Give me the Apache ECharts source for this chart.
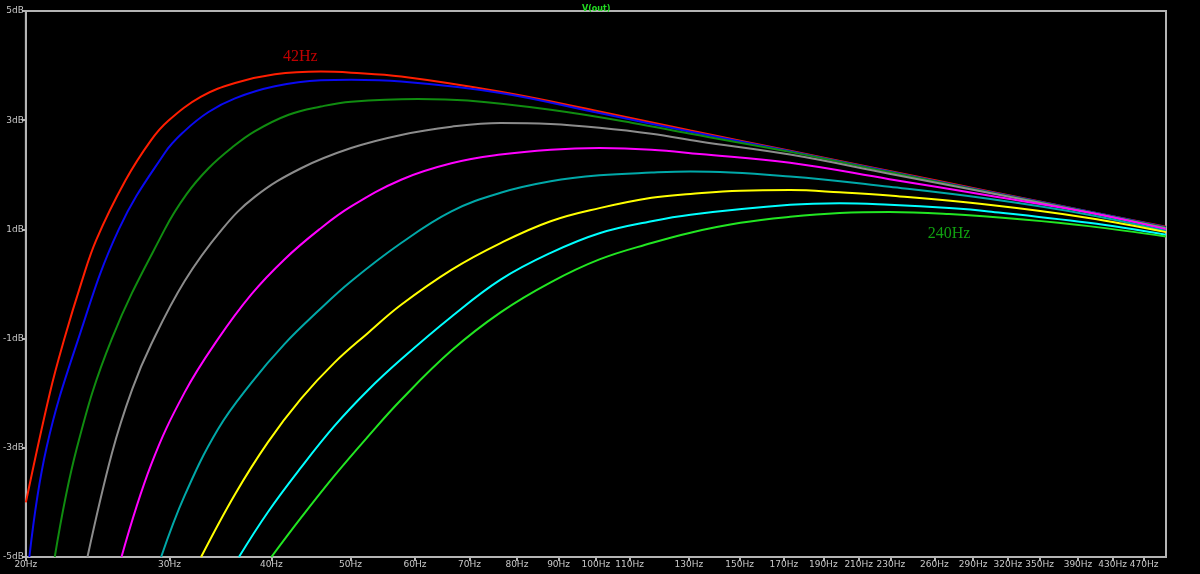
<!DOCTYPE html>
<html>
<head>
<meta charset="utf-8">
<title>V(out)</title>
<style>
  html, body { margin: 0; padding: 0; background: #000; }
  #myChart { width: 1200px; height: 574px; }
</style>
</head>
<body>
<div id="myChart"></div>
<script src="https://cdn.jsdelivr.net/npm/echarts@6/dist/echarts.min.js"></script>
<script>
// tick positions
var xTicks = [20, 30, 40, 50, 60, 70, 80, 90, 100, 110, 130, 150, 170, 190, 210, 230, 260, 290, 320, 350, 390, 430, 470];
var yTicks = [-5, -3, -1, 1, 3, 5];

// [Hz, dB], one array per trace
var trace42 = [[20, -4.0], [21.4, -2.0], [22.3, -1.0], [23.4, 0.03], [24.4, 0.81], [26.5, 1.9], [28.5, 2.64], [29.9, 2.99], [32.8, 3.43], [36.1, 3.68], [40.4, 3.84], [46, 3.89], [50.1, 3.87], [57.7, 3.80], [76.4, 3.52], [101, 3.16], [130.6, 2.81], [173, 2.44], [229, 2.07], [303, 1.70], [402, 1.33], [500, 1.05]];
var traceBlue = [[20.2, -5], [21.2, -3], [23.2, -1], [26, 1], [29.6, 2.4], [31.3, 2.8], [33.5, 3.15], [36.1, 3.4], [40.4, 3.62], [46, 3.73], [50.1, 3.74], [57.7, 3.71], [76.4, 3.50], [101, 3.13], [130.6, 2.79], [173, 2.43], [229, 2.06], [303, 1.69], [402, 1.33], [500, 1.04]];
var traceDkGreen = [[21.7, -5], [23.1, -3], [25.5, -1], [29.6, 1], [31.5, 1.65], [33.5, 2.12], [35.8, 2.5], [38.2, 2.8], [42, 3.1], [46, 3.25], [50.1, 3.34], [60.5, 3.39], [69.6, 3.36], [88, 3.19], [111, 2.95], [130.6, 2.75], [173, 2.42], [229, 2.05], [303, 1.68], [402, 1.32], [500, 1.03]];
var traceGray = [[23.8, -5], [25.5, -3.1], [27, -1.93], [28.5, -1.1], [31.3, 0.05], [34.8, 1.0], [38.2, 1.6], [43.5, 2.12], [50.1, 2.49], [57.7, 2.73], [66.5, 2.88], [76.4, 2.95], [88, 2.93], [101, 2.86], [117, 2.75], [134, 2.61], [173, 2.37], [229, 2.02], [303, 1.67], [402, 1.31], [500, 1.02]];
var traceMagenta = [[26.2, -5], [28.5, -3.3], [31.3, -1.99], [34.4, -1.01], [37.8, -0.19], [41.5, 0.45], [45.8, 1.0], [50.1, 1.42], [57.7, 1.91], [66.5, 2.21], [76.4, 2.37], [88, 2.46], [101, 2.49], [117, 2.46], [134, 2.38], [173, 2.22], [229, 1.92], [303, 1.62], [402, 1.31], [500, 1.0]];
var traceTeal = [[29.3, -5], [31.3, -3.88], [34.4, -2.66], [37.8, -1.81], [41.5, -1.1], [45.6, -0.5], [50.1, 0.05], [57.7, 0.75], [66.5, 1.33], [76.4, 1.67], [88, 1.88], [101, 1.99], [117, 2.04], [130.6, 2.06], [173, 1.97], [229, 1.78], [303, 1.56], [402, 1.27], [500, 0.97]];
var traceYellow = [[32.8, -5], [36.1, -3.85], [39.6, -2.9], [43.5, -2.1], [47.8, -1.44], [52.5, -0.9], [57.7, -0.38], [66.5, 0.26], [76.4, 0.75], [88, 1.15], [101, 1.39], [117, 1.58], [130.6, 1.65], [150.4, 1.71], [173, 1.72], [199, 1.68], [229, 1.62], [303, 1.45], [402, 1.21], [500, 0.95]];
var traceCyan = [[36.5, -5], [39.6, -4.18], [43.5, -3.36], [47.8, -2.6], [52.5, -1.95], [57.7, -1.38], [66.5, -0.6], [76.4, 0.08], [88, 0.57], [101, 0.93], [117, 1.15], [130.6, 1.27], [173, 1.45], [199, 1.48], [229, 1.45], [271, 1.39], [303, 1.33], [402, 1.12], [500, 0.90]];
var trace240 = [[40, -5], [43.5, -4.28], [47.8, -3.51], [52.5, -2.8], [57.7, -2.12], [66.5, -1.22], [76.4, -0.52], [88, 0.03], [101, 0.45], [117, 0.75], [130.6, 0.94], [150.4, 1.12], [173, 1.23], [199, 1.30], [229, 1.32], [271, 1.28], [334, 1.18], [402, 1.06], [500, 0.87]];

var traces = [
    {data: trace42, color: '#ff1e00'},
    {data: traceBlue, color: '#0a0af0'},
    {data: traceDkGreen, color: '#108c10'},
    {data: traceGray, color: '#8c8c8c'},
    {data: traceMagenta, color: '#ff00ff'},
    {data: traceTeal, color: '#00a8a8'},
    {data: traceYellow, color: '#ffff00'},
    {data: traceCyan, color: '#00ffff'},
    {data: trace240, color: '#22e622'}
];

var frame = '#b4b4b4';
var tickFont = {color: '#c8c8c8', fontSize: 9, fontFamily: 'DejaVu Sans'};

var series = traces.map(function (t) {
    return {
        type: 'line',
        data: t.data,
        showSymbol: false,
        smooth: 0.4,
        lineStyle: {color: t.color, width: 2},
        itemStyle: {color: t.color},
        z: 3
    };
});

// the two step labels, placed in data space
function stepLabel(coord, text, color) {
    return {
        symbol: 'circle',
        symbolSize: 1,
        itemStyle: {color: 'rgba(0,0,0,0)'},
        label: {show: true, position: 'inside', color: color, fontSize: 16, fontFamily: 'Liberation Serif', formatter: text},
        data: [{coord: coord}]
    };
}
series[0].markPoint = stepLabel([43.4, 4.16], '42Hz', '#c00000');
series[8].markPoint = stepLabel([271, 0.92], '240Hz', '#10a010');

var option = {
    backgroundColor: '#000',
    animation: false,
    title: {
        text: 'V(out)',
        left: 577,
        top: 0,
        textStyle: {color: '#22dd22', fontSize: 8, fontWeight: 'bold', fontFamily: 'DejaVu Sans'}
    },
    grid: {
        left: 24, right: 34, top: 11, bottom: 17,
        show: true, borderColor: frame, borderWidth: 2, backgroundColor: 'transparent'
    },
    xAxis: {
        type: 'log',
        logBase: 10,
        min: 20,
        max: 500,
        axisLine: {show: true, onZero: false, lineStyle: {color: frame, width: 2}},
        axisTick: {show: true, length: 4, customValues: xTicks, lineStyle: {color: frame, width: 2}},
        minorTick: {show: false},
        splitLine: {show: false},
        axisLabel: {
            customValues: xTicks,
            margin: 3,
            hideOverlap: false,
            formatter: function (v) { return v + 'Hz'; },
            color: tickFont.color, fontSize: tickFont.fontSize, fontFamily: tickFont.fontFamily
        }
    },
    yAxis: {
        type: 'value',
        min: -5,
        max: 5,
        axisLine: {show: true, onZero: false, lineStyle: {color: frame, width: 2}},
        axisTick: {show: true, length: 4, customValues: yTicks, lineStyle: {color: frame, width: 2}},
        splitLine: {show: false},
        axisLabel: {
            customValues: yTicks,
            margin: 2,
            formatter: function (v) { return v + 'dB'; },
            color: tickFont.color, fontSize: tickFont.fontSize, fontFamily: tickFont.fontFamily
        }
    },
    series: series
};

var myChart = echarts.init(document.getElementById('myChart'));
myChart.setOption(option);
</script>
</body>
</html>
